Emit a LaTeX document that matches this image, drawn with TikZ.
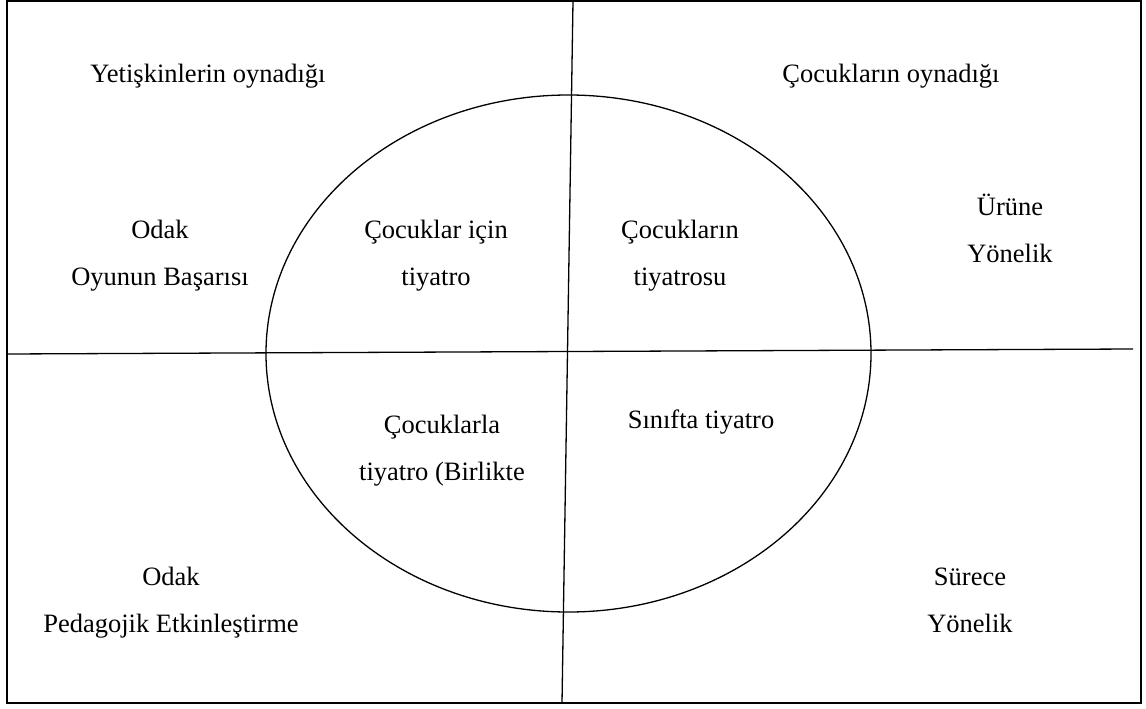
\documentclass[tikz,border=0pt]{standalone}
\usepackage{fontspec}
\setmainfont{Liberation Serif}
\usetikzlibrary{positioning,calc}

\begin{document}
\begin{tikzpicture}[x=1pt,y=-1pt,line width=1.3pt,
  lbl/.style={align=center,anchor=base,inner sep=0pt,font=\fontsize{26.5}{47}\selectfont}]
\useasboundingbox (0,0) rectangle (1146,709);
\draw (7,1) rectangle (1141,703);
% axes
\coordinate (N) at (573,1);
\coordinate (S) at (562,703);
\coordinate (W) at (7,354);
\coordinate (E) at (1133,349);
\draw (N) -- (S);
\draw (W) -- (E);
\draw (568.5,353.5) ellipse (302.5 and 258.5);
% quadrant labels (base = last line)
\node[lbl] (YO) at (208,82) {Yetişkinlerin oynadığı};
\node[lbl] (CO) at (891,82) {Çocukların oynadığı};
\node[lbl] (OB) at (160,285) {Odak\\Oyunun Başarısı};
\node[lbl] (UY) at (1010,262) {Ürüne\\Yönelik};
\node[lbl] (OP) at (171,632) {Odak\\Pedagojik Etkinleştirme};
\node[lbl] (SY) at (970,632) {Sürece\\Yönelik};
% inside the circle
\node[lbl] (CI) at (436,285) {Çocuklar için\\tiyatro};
\node[lbl] (CT) at (680,285) {Çocukların\\tiyatrosu};
\node[lbl] (CB) at (442,480) {Çocuklarla\\tiyatro (Birlikte};
\node[lbl] (ST) at (701,428) {Sınıfta tiyatro};
\end{tikzpicture}
\end{document}
